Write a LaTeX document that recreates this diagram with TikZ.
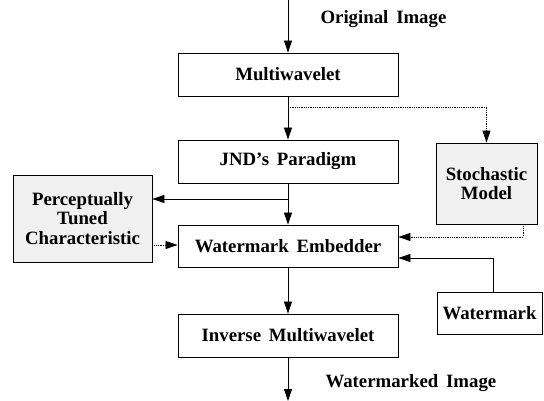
\documentclass[tikz,border=0pt]{standalone}
\usepackage{fontspec}
\setmainfont{Liberation Serif}
\usetikzlibrary{arrows.meta}
\begin{document}
\begin{tikzpicture}[x=1pt,y=-1pt,
  txt/.style={font=\bfseries\fontsize{18.8}{19.5}\selectfont},
  blk/.style={draw,line width=0.9pt,inner sep=0pt,txt},
  grey/.style={blk,fill=black!6},
  tip/.style={-{Triangle[length=12pt,width=8pt]}},
  flow/.style={line width=0.8pt,tip},
  side/.style={line width=0.8pt,densely dotted,tip}]
\useasboundingbox (0,0) rectangle (544,401);
% main chain
\node[blk,minimum width=220pt,minimum height=43pt] (mw) at (288,74.5) {Multiwavelet};
\node[blk,minimum width=220pt,minimum height=43pt] (jnd) at (288,161.5) {JND's\, Paradigm};
\node[blk,minimum width=220pt,minimum height=42pt] (emb) at (288,246) {Watermark\, Embedder};
\node[blk,minimum width=220pt,minimum height=43pt] (imw) at (288,335.5) {Inverse\, Multiwavelet};
% side blocks
\node[grey,minimum width=139pt,minimum height=87pt,align=center] (ptc) at (82.5,218.5) {Perceptually\\Tuned\\Characteristic};
\node[grey,minimum width=101pt,minimum height=81pt,align=center] (sto) at (486.5,183.5) {Stochastic\\Model};
\node[blk,minimum width=105pt,minimum height=42pt] (wm) at (489.5,313) {Watermark};
% labels
\coordinate (in) at (288,0);
\coordinate (out) at (288,401);
\node[txt,anchor=west] (lin) at (317,19) {Original\, Image};
\node[txt,anchor=west] (lout) at (322,383) {Watermarked\, Image};
% connectors
\draw[flow] (in) -- (mw.north);
\draw[flow] (mw.south) -- (jnd.north);
\draw[flow] (jnd.south) -- (emb.north);
\draw[flow] (emb.south) -- (imw.north);
\draw[flow] (imw.south) -- (out);
\coordinate (br1) at (288,107);
\draw[side] (br1) -| (sto.north);
\coordinate (br2) at (288,199);
\draw[flow] (br2) -- (br2 -| ptc.east);
\draw[side] (ptc.east |- 0,245) -- (emb.west |- 0,245);
\draw[side] (sto.south -| 523,0) |- (emb.east |- 0,237);
\draw[flow] (wm.north -| 493,0) |- (emb.east |- 0,258);
\end{tikzpicture}
\end{document}
